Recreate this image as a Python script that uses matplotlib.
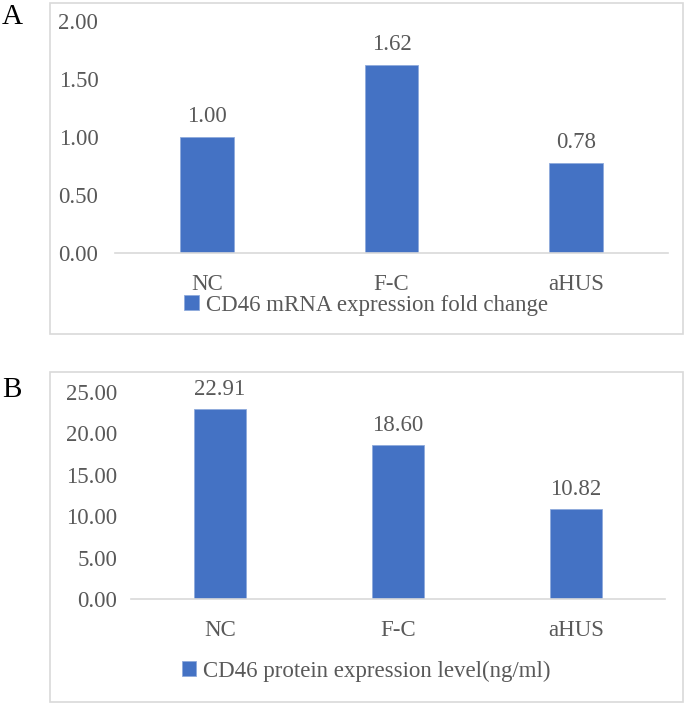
import matplotlib
matplotlib.use("Agg")
import matplotlib.pyplot as plt
from matplotlib.patches import Rectangle, Patch

# data
categories = ["NC", "F-C", "aHUS"]
mrna_fold = [1.00, 1.62, 0.78]
protein_level = [22.91, 18.60, 10.82]
mrna_ticks = [0.0, 0.5, 1.0, 1.5, 2.0]
protein_ticks = [0, 5, 10, 15, 20, 25]
mrna_label = "CD46 mRNA expression fold change"
protein_label = "CD46 protein expression level(ng/ml)"

BLUE = "#4472C4"
GREY_TXT = "#595959"
GREY_LINE = "#D9D9D9"
W, H = 685, 705

plt.rcParams["font.family"] = ["Liberation Serif", "DejaVu Serif"]
plt.rcParams["font.size"] = 16.5

fig = plt.figure(figsize=(W / 100, H / 100), dpi=100)


def px_box(x0, y0, x1, y1):
    """pixel box (top-left origin) -> figure fraction rect"""
    return [x0 / W, 1 - y1 / H, (x1 - x0) / W, (y1 - y0) / H]


def panel(frame, axbox, values, ticks, fmt, label, letter, letter_y,
          legend_y, ypad, xpad, val_off):
    # outer frame of the panel
    fx0, fy0, fx1, fy1 = frame
    fig.patches.append(Rectangle((fx0 / W, 1 - fy1 / H), (fx1 - fx0) / W,
                                 (fy1 - fy0) / H, transform=fig.transFigure,
                                 fill=False, edgecolor=GREY_LINE, lw=1.2))
    fig.text(2 / W, 1 - letter_y / H, letter, fontsize=21, color="black",
             va="center", ha="left")

    ax = fig.add_axes(px_box(*axbox))
    x = range(len(categories))
    bars = ax.bar(x, values, width=0.29, color=BLUE, edgecolor="#8FAADC",
                  linewidth=0.6)
    for b, v in zip(bars, values):
        ax.annotate(fmt % v, (b.get_x() + b.get_width() / 2, v),
                    xytext=(0, val_off), textcoords="offset points",
                    ha="center", va="center", color=GREY_TXT)
    ax.set_xlim(-0.5, len(categories) - 0.5)
    ax.set_ylim(ticks[0], ticks[-1])
    ax.set_yticks(ticks)
    ax.set_yticklabels([fmt % t for t in ticks], color=GREY_TXT)
    ax.set_xticks(list(x))
    ax.set_xticklabels(categories, color=GREY_TXT)
    ax.tick_params(axis="y", length=0, pad=ypad)
    ax.tick_params(axis="x", length=0, pad=xpad)
    for s in ("left", "right", "top"):
        ax.spines[s].set_visible(False)
    ax.spines["bottom"].set_color(GREY_LINE)
    ax.spines["bottom"].set_linewidth(1.2)
    ax.patch.set_alpha(0)

    fig.legend(handles=[Patch(facecolor=BLUE, edgecolor="#8FAADC", lw=0.6)],
               labels=[label], loc="center",
               bbox_to_anchor=(366 / W, 1 - legend_y / H), frameon=False,
               handlelength=0.62, handleheight=0.62, handletextpad=0.3,
               labelcolor=GREY_TXT, borderpad=0, borderaxespad=0)
    return ax


panel((49.5, 3, 683, 334), (115, 21, 668, 253), mrna_fold, mrna_ticks,
      "%.2f", mrna_label, "A", 17, 305, 12, 15, 14.5)
panel((49.5, 372, 683, 702), (131, 392, 665, 599), protein_level,
      protein_ticks, "%.2f", protein_label, "B", 390, 671, 10, 15, 14)

fig.savefig("out.png", dpi=100)
